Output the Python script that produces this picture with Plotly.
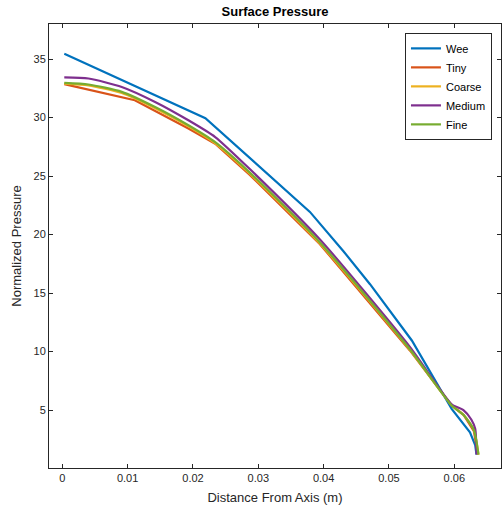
import plotly.graph_objects as go

# ---- data ----
wee_x = [0.0003, 0.0117, 0.0219, 0.0379, 0.0430, 0.0471, 0.0535, 0.0596, 0.0624, 0.0632, 0.0634]
wee_y = [35.45, 32.55, 29.95, 21.94, 18.6, 15.76, 10.95, 5.1, 3.1, 2.0, 1.2]

tiny_x = [0.0003, 0.0111, 0.0193, 0.0234, 0.0287, 0.0394, 0.0532, 0.0596, 0.0614, 0.0630, 0.0636]
tiny_y = [32.86, 31.48, 29.06, 27.77, 25.1, 19.2, 10.1, 5.4, 4.6, 3.2, 1.2]

coarse_x = [0.0003, 0.0040, 0.0091, 0.0142, 0.0193, 0.0234, 0.0287, 0.0394, 0.0532, 0.0596, 0.0614, 0.0630, 0.0637]
coarse_y = [32.9, 32.75, 32.1, 30.8, 29.25, 27.8, 25.2, 19.25, 10.15, 5.4, 4.6, 3.3, 1.2]

medium_x = [0.0003, 0.0040, 0.0091, 0.0142, 0.0193, 0.0234, 0.0287, 0.0394, 0.0532, 0.0596, 0.0614, 0.0626, 0.0632, 0.0634]
medium_y = [33.43, 33.34, 32.62, 31.34, 29.77, 28.34, 25.6, 19.6, 10.4, 5.5, 5.0, 4.2, 3.4, 1.2]

fine_x = [0.0003, 0.0040, 0.0091, 0.0142, 0.0193, 0.0234, 0.0287, 0.0394, 0.0532, 0.0596, 0.0614, 0.0630, 0.0637]
fine_y = [32.97, 32.83, 32.2, 30.9, 29.34, 27.9, 25.3, 19.35, 10.2, 5.4, 4.6, 3.3, 1.2]

series = [
    ("Wee", wee_x, wee_y, "#0072BD", "linear"),
    ("Tiny", tiny_x, tiny_y, "#D95319", "linear"),
    ("Coarse", coarse_x, coarse_y, "#EDB120", "spline"),
    ("Medium", medium_x, medium_y, "#7E2F8E", "spline"),
    ("Fine", fine_x, fine_y, "#77AC30", "spline"),
]

x_ticks = [0, 0.01, 0.02, 0.03, 0.04, 0.05, 0.06]
y_ticks = [5, 10, 15, 20, 25, 30, 35]

FONT = "Liberation Sans, Arial, Helvetica, sans-serif"

fig = go.Figure()
for name, xs, ys, col, shape in series:
    line = dict(color=col, width=2.2, shape=shape)
    if shape == "spline":
        line["smoothing"] = 0.6
    fig.add_trace(go.Scatter(x=xs, y=ys, mode="lines", name=name, line=line))

axis_common = dict(
    showline=True, linecolor="#262626", linewidth=1, mirror="ticks",
    ticks="inside", ticklen=4, tickcolor="#262626", tickwidth=1,
    showgrid=False, zeroline=False,
    tickfont=dict(family=FONT, size=11, color="#262626"),
)

fig.update_layout(
    width=502, height=512,
    margin=dict(l=49, r=1, t=24, b=44),
    paper_bgcolor="white", plot_bgcolor="white",
    title=dict(text="<b>Surface Pressure</b>", x=(49 + 501) / 2 / 502, xanchor="center",
               y=1 - 11 / 512, yanchor="middle",
               font=dict(family=FONT, size=13, color="black")),
    xaxis=dict(range=[-0.00204, 0.06715], tickvals=x_ticks,
               ticktext=[str(v) for v in x_ticks],
               title=dict(text="Distance From Axis (m)", standoff=9,
                          font=dict(family=FONT, size=13, color="#262626")),
               **axis_common),
    yaxis=dict(range=[0.05, 38], tickvals=y_ticks,
               title=dict(text="Normalized Pressure", standoff=8,
                          font=dict(family=FONT, size=13, color="#262626")),
               **axis_common),
    legend=dict(x=0.980, y=0.980, xanchor="right", yanchor="top",
                bgcolor="white", bordercolor="#262626", borderwidth=1,
                font=dict(family=FONT, size=11, color="black"),
                tracegroupgap=0, itemwidth=30),
    showlegend=True,
)

fig.write_html("out.html")
